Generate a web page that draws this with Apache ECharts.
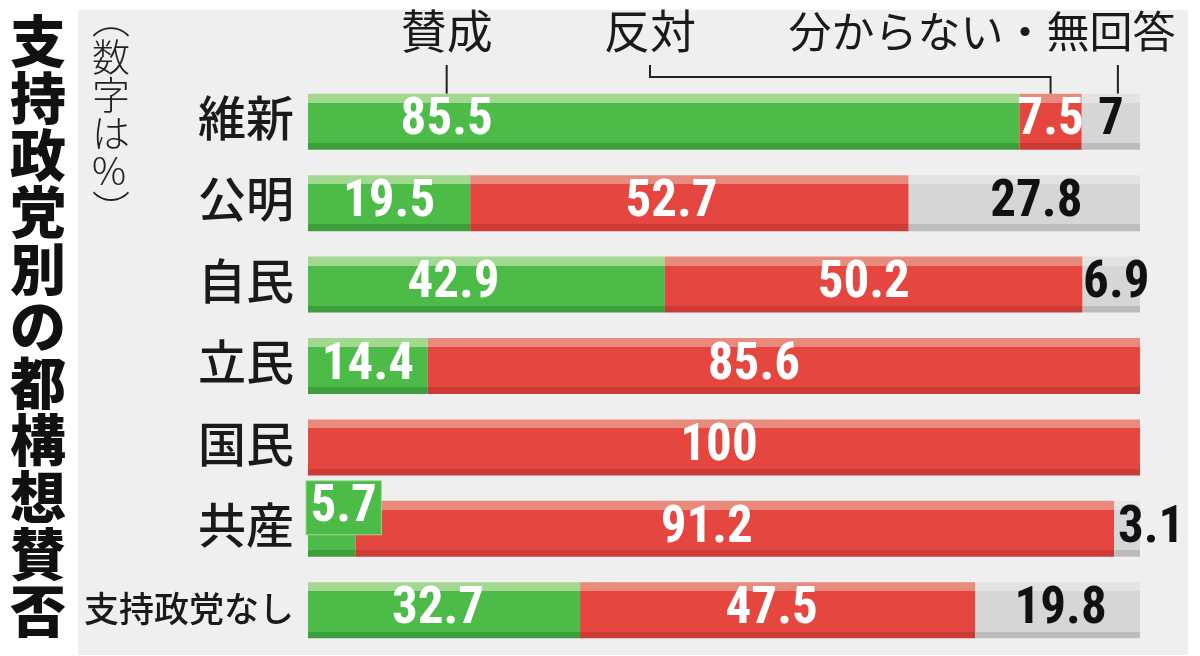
<!DOCTYPE html>
<html>
<head>
    <meta charset="utf-8">
    <title>支持政党別の都構想賛否</title>
    <style>
        html, body { margin: 0; padding: 0; background: #ffffff; }
        #chart { width: 1200px; height: 656px; }
    </style>
</head>
<body>
    <div id="chart"></div>
    <script src="https://cdn.jsdelivr.net/npm/echarts@6/dist/echarts.min.js"></script>
    <script type="text/javascript">
        // 支持政党別（数字は%）
        var parties = ['維新', '公明', '自民', '立民', '国民', '共産', '支持政党なし'];
        var groups = ['賛成', '反対', '分からない・無回答'];
        var agree = [85.5, 19.5, 42.9, 14.4, 0, 5.7, 32.7];
        var oppose = [7.5, 52.7, 50.2, 85.6, 100, 91.2, 47.5];
        var unknown = [7, 27.8, 6.9, 0, 0, 3.1, 19.8];

        // label nudges in px (style only)
        var shiftAgree = [-217, 0, -33, 0, 0, 12, -6];
        var shiftOppose = [0, -18, -10, -30, -5, -28, -6];
        var shiftUnknown = [0, 12, 5, 0, 0, 24, 3];

        var numFont = '"Liberation Sans Narrow", "Roboto Condensed", Roboto, sans-serif';
        var jpFont = '"Noto Sans CJK JP", sans-serif';

        function stripes(top, mid, bot) {
            return new echarts.graphic.LinearGradient(0, 0, 0, 1, [
                {offset: 0, color: top}, {offset: 0.16, color: top},
                {offset: 0.16, color: mid}, {offset: 0.88, color: mid},
                {offset: 0.88, color: bot}, {offset: 1, color: bot}
            ]);
        }

        function makeData(values, shifts, extra) {
            return values.map(function (v, i) {
                var item = {value: v, label: {offset: [shifts[i], 0]}};
                if (extra && extra[i]) {
                    item.label = Object.assign(item.label, extra[i]);
                }
                return item;
            });
        }

        function numLabel(color) {
            return {
                show: true,
                position: 'inside',
                color: color,
                fontFamily: numFont,
                fontWeight: 'bold',
                fontSize: 51,
                formatter: function (p) { return p.value ? String(p.value) : ''; }
            };
        }

        var agreeExtra = {};
        agreeExtra[5] = {
            offset: [12, -21],
            backgroundColor: '#4cbb47',
            borderColor: '#9ad58c',
            borderWidth: 1,
            padding: [2, 4, 0, 4]
        };

        var chart = echarts.init(document.getElementById('chart'));
        var option = {
            backgroundColor: '#ffffff',
            animation: false,
            grid: {left: 308, right: 60, top: 81, height: 570},
            xAxis: {type: 'value', min: 0, max: 100, show: false},
            yAxis: {
                type: 'category',
                inverse: true,
                data: parties,
                axisLine: {show: false},
                axisTick: {show: false},
                axisLabel: {
                    margin: 14,
                    formatter: function (v) { return v.length > 2 ? '{s|' + v + '}' : '{b|' + v + '}'; },
                    rich: {
                        b: {fontFamily: jpFont, fontWeight: 500, fontSize: 48, color: '#1a1a1a', padding: [0, 0, 8, 0]},
                        s: {fontFamily: jpFont, fontWeight: 500, fontSize: 35, color: '#1a1a1a', padding: [0, 0, 4, 0]}
                    }
                }
            },
            series: [
                {
                    name: groups[0], type: 'bar', stack: 'all', barWidth: 56,
                    itemStyle: {color: stripes('#a2d88f', '#4cbb47', '#3c9f3b')},
                    label: numLabel('#ffffff'),
                    data: makeData(agree, shiftAgree, agreeExtra)
                },
                {
                    name: groups[1], type: 'bar', stack: 'all', barWidth: 56,
                    itemStyle: {color: stripes('#e98b7c', '#e5463f', '#cc3a36')},
                    label: numLabel('#ffffff'),
                    data: makeData(oppose, shiftOppose)
                },
                {
                    name: groups[2], type: 'bar', stack: 'all', barWidth: 56,
                    itemStyle: {color: stripes('#e3e3e3', '#d6d6d6', '#bcbcbc')},
                    label: numLabel('#111111'),
                    data: makeData(unknown, shiftUnknown)
                }
            ],
            graphic: [
                {id: 'panel', type: 'rect', z: -10, silent: true,
                    shape: {x: 78, y: 10, width: 1110, height: 645},
                    style: {fill: '#efeff0'}},
                {id: 'title', type: 'text', left: 10, top: 12,
                    style: {text: '支持政党別の都構想賛否'.split('').join('\n'),
                        font: '900 56px "Noto Sans CJK JP", sans-serif',
                        lineHeight: 57, fill: '#111111', align: 'center', x: 28}},
                {id: 'unit', type: 'text', left: 92, top: 0,
                    style: {text: ['︵', '数', '字', 'は', '%', '︶'].join('\n'),
                        font: '300 38px "Noto Sans CJK JP", sans-serif',
                        lineHeight: 38, fill: '#222222', align: 'center'}}
            ]
        };
        chart.setOption(option);

        // header labels with leader lines to the first row
        function px(v, row) { return chart.convertToPixel({gridIndex: 0}, [v, row]); }
        var barTop = px(0, 0)[1] - 28;
        var xAgree = px(agree[0] / 2, 0)[0] + shiftAgree[0];
        var xOppose = px(agree[0] + oppose[0] / 2, 0)[0];
        var xUnknown = px(agree[0] + oppose[0] + unknown[0] / 2, 0)[0] + 7;
        var headFont = '400 46px "Noto Sans CJK JP", sans-serif';
        var lineStyle = {stroke: '#222222', lineWidth: 2, fill: null};
        chart.setOption({
            graphic: [
                {id: 'h0', type: 'text', x: xAgree, y: 8,
                    style: {text: groups[0], font: headFont, fill: '#1a1a1a', align: 'center'}},
                {id: 'h1', type: 'text', x: 650, y: 8,
                    style: {text: groups[1], font: headFont, fill: '#1a1a1a', align: 'center'}},
                {id: 'h2', type: 'text', x: 982, y: 10,
                    style: {text: groups[2], font: '400 43px "Noto Sans CJK JP", sans-serif', fill: '#1a1a1a', align: 'center'}},
                {id: 'l0', type: 'polyline', shape: {points: [[xAgree, 65], [xAgree, barTop]]}, style: lineStyle},
                {id: 'l1', type: 'polyline', shape: {points: [[650, 65], [650, 77], [xOppose, 77], [xOppose, barTop]]}, style: lineStyle},
                {id: 'l2', type: 'polyline', shape: {points: [[xUnknown, 65], [xUnknown, barTop]]}, style: lineStyle}
            ]
        });
    </script>
</body>
</html>
